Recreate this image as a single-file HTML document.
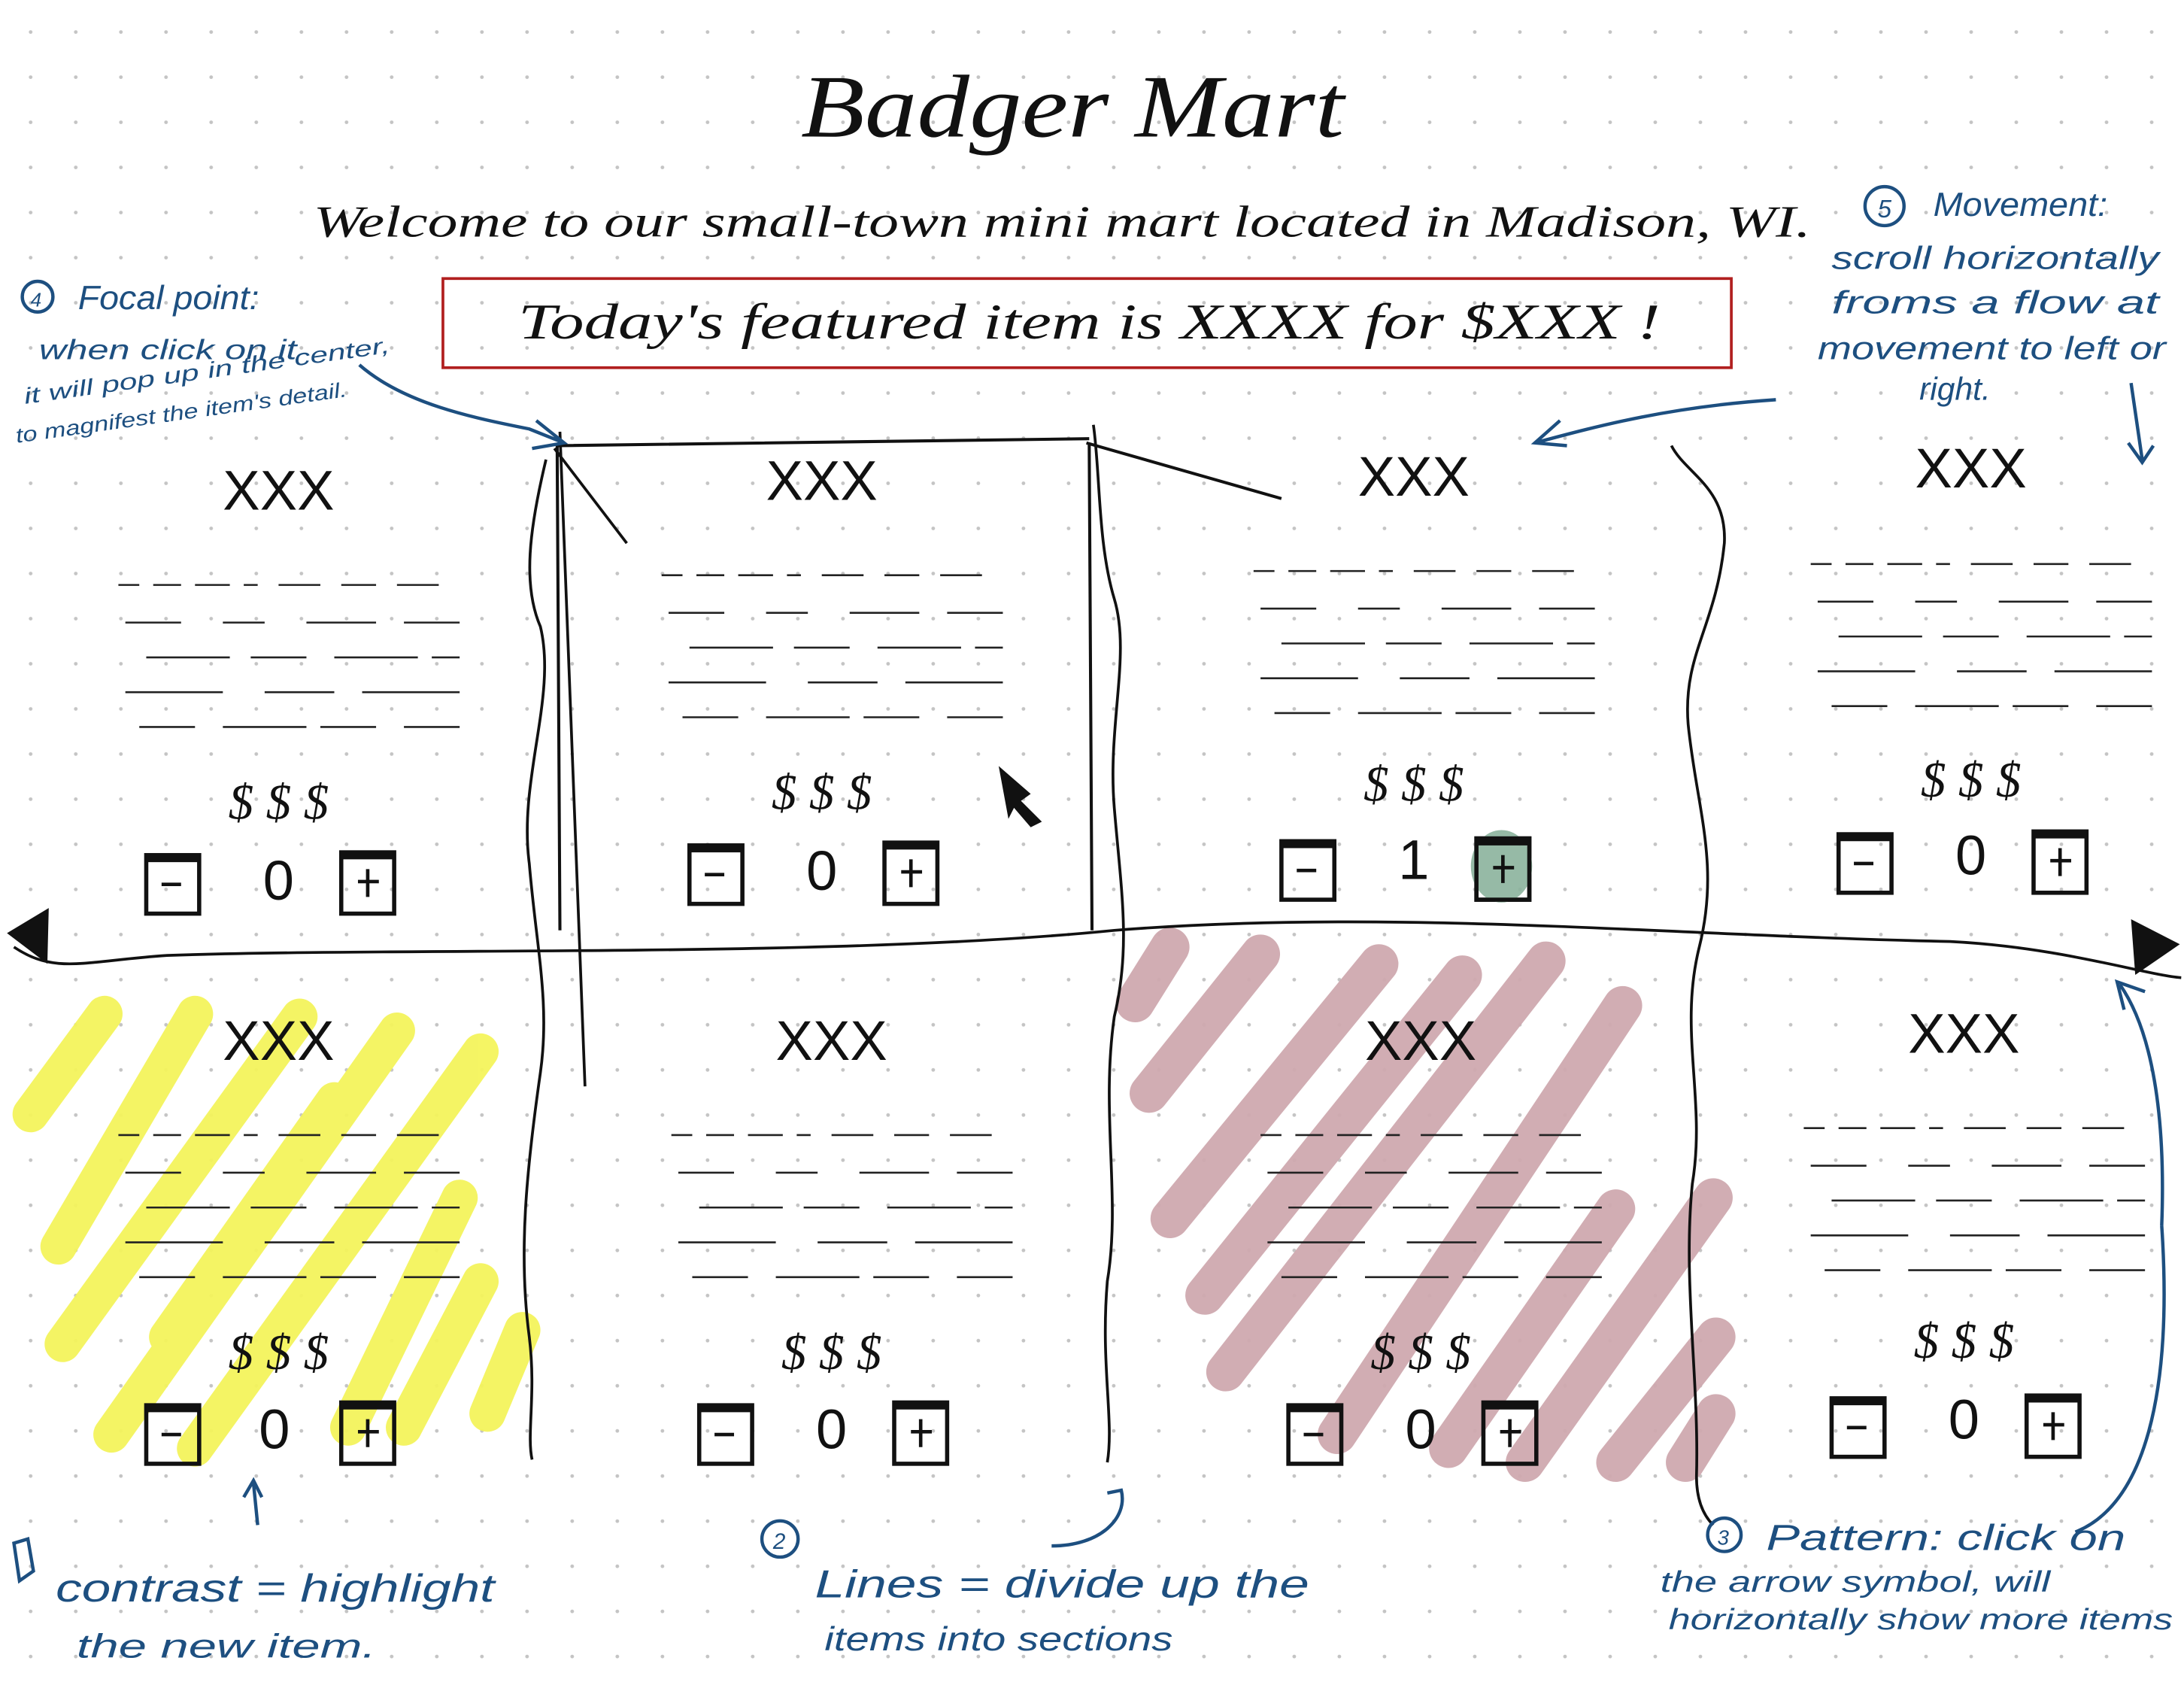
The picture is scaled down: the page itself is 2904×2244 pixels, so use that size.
<!DOCTYPE html>
<html><head><meta charset="utf-8"><style>
html,body{margin:0;padding:0;background:#fff;}
svg{display:block;}
.h{font-family:"Liberation Serif",serif;font-style:italic;fill:#111;}
.b{font-family:"Liberation Sans",sans-serif;font-style:italic;fill:#1d4f80;}
.k{font-family:"Liberation Sans",sans-serif;fill:#111;}
</style></head><body>
<svg width="2904" height="2244" viewBox="0 0 1568 1212" preserveAspectRatio="none" xmlns="http://www.w3.org/2000/svg">
<defs>
<pattern id="dots" x="6" y="7" width="32.4" height="32.4" patternUnits="userSpaceOnUse">
<circle cx="16" cy="16" r="1.3" fill="#c4c4c4"/>
</pattern>
<g id="cell">
<path d="M-115,70h15M-90,70h20M-60,70h25M-25,70h10M0,70h30M45,70h25M85,70h30
M-110,97h40M-40,97h30M20,97h50M90,97h40
M-95,122h60M-20,122h40M40,122h60M110,122h20
M-110,147h70M-10,147h50M60,147h70
M-100,172h40M-40,172h60M30,172h40M90,172h40" stroke="#222" stroke-width="1.4" fill="none"/>
<rect x="-95" y="264" width="38" height="42" fill="none" stroke="#111" stroke-width="3"/>
<path d="M-95,266h38" stroke="#111" stroke-width="6"/>
<path d="M-84,285h14" stroke="#111" stroke-width="2.5"/>
<rect x="45" y="262" width="38" height="44" fill="none" stroke="#111" stroke-width="3"/>
<path d="M45,264h38" stroke="#111" stroke-width="6"/>
<path d="M57,283h15M64,274v20" stroke="#111" stroke-width="2.5"/>
</g>
</defs>
<rect width="1568" height="1212" fill="#fff"/>
<rect width="1568" height="1212" fill="url(#dots)"/>

<g stroke="#f4f45c" stroke-width="26" stroke-linecap="round" fill="none" opacity="0.95">
<path d="M22,800L75,728"/><path d="M42,895L140,728"/><path d="M45,965L215,730"/>
<path d="M80,1030L285,740"/><path d="M140,1040L345,755"/><path d="M250,1025L330,860"/>
<path d="M290,1025L345,920"/><path d="M350,1015L375,955"/><path d="M120,960L240,790"/>
</g>
<g stroke="#cfa9af" stroke-width="28" stroke-linecap="round" fill="none" opacity="0.95">
<path d="M815,720L840,680"/><path d="M825,785L905,685"/><path d="M840,875L990,692"/>
<path d="M865,930L1050,700"/><path d="M880,985L1110,690"/><path d="M960,1030L1165,722"/>
<path d="M1040,1040L1160,868"/><path d="M1095,1050L1230,860"/><path d="M1160,1050L1232,960"/>
<path d="M1210,1050L1232,1015"/>
</g>

<text x="575" y="98" class="h" font-size="64" textLength="390" lengthAdjust="spacingAndGlyphs">Badger Mart</text>
<text x="225" y="170" class="h" font-size="32" textLength="1075" lengthAdjust="spacingAndGlyphs">Welcome  to our  small-town  mini mart  located in Madison, WI.</text>
<rect x="318" y="200" width="925" height="64" fill="none" stroke="#b11f1f" stroke-width="2"/>
<text x="372" y="243" class="h" font-size="36" textLength="820" lengthAdjust="spacingAndGlyphs">Today's featured item is  XXXX for $XXX !</text>

<g transform="translate(200,350)"><use href="#cell"/></g>
<g transform="translate(590,343)"><use href="#cell"/></g>
<g transform="translate(1015,340)"><use href="#cell"/></g>
<g transform="translate(1415,335)"><use href="#cell"/></g>
<g transform="translate(200,745)"><use href="#cell"/></g>
<g transform="translate(597,745)"><use href="#cell"/></g>
<g transform="translate(1020,745)"><use href="#cell"/></g>
<g transform="translate(1410,740)"><use href="#cell"/></g>
<ellipse cx="1078" cy="622" rx="22" ry="26" fill="#8bb29c" opacity="0.9"/>
<rect x="1060" y="602" width="38" height="44" fill="none" stroke="#111" stroke-width="3"/>
<path d="M1060,604h38" stroke="#111" stroke-width="6"/>
<path d="M1072,623h15M1079,614v20" stroke="#111" stroke-width="2.5"/>

<g class="k" font-size="40" text-anchor="middle">
<text x="200" y="366">XXX</text><text x="590" y="359">XXX</text><text x="1015" y="356">XXX</text><text x="1415" y="350">XXX</text>
<text x="200" y="761">XXX</text><text x="597" y="761">XXX</text><text x="1020" y="761">XXX</text><text x="1410" y="756">XXX</text>
</g>
<g class="h" font-size="36" text-anchor="middle">
<text x="200" y="588">$ $ $</text><text x="590" y="581">$ $ $</text><text x="1015" y="575">$ $ $</text><text x="1415" y="572">$ $ $</text>
<text x="200" y="983">$ $ $</text><text x="597" y="983">$ $ $</text><text x="1020" y="983">$ $ $</text><text x="1410" y="975">$ $ $</text>
</g>
<g class="k" font-size="40" text-anchor="middle">
<text x="200" y="646">0</text><text x="590" y="639">0</text><text x="1015" y="631">1</text><text x="1415" y="628">0</text>
<text x="197" y="1040">0</text><text x="597" y="1040">0</text><text x="1020" y="1040">0</text><text x="1410" y="1033">0</text>
</g>

<g stroke="#111" fill="none" stroke-width="2">
<path d="M10,680C40,700 60,690 120,686C300,680 600,688 800,668C1000,652 1200,672 1400,676C1480,680 1540,700 1566,702"/>
<path d="M392,330C380,380 375,420 388,450C400,500 372,560 380,620C385,680 395,720 388,770C378,840 372,900 380,960C385,1000 378,1030 382,1048"/>
<path d="M785,305C790,340 788,390 800,430C812,470 795,520 800,580C805,640 812,680 800,730C790,800 805,860 795,920C790,980 800,1020 795,1050"/>
<path d="M1200,320C1210,340 1240,350 1238,390C1232,450 1208,470 1212,520C1218,580 1235,620 1220,680C1205,740 1225,790 1215,850C1208,920 1220,990 1218,1060C1218,1080 1225,1090 1230,1095"/>
<path d="M400,320L782,315M400,318L402,668M782,318L784,668M780,318L920,358" stroke-width="2.2"/>
<path d="M398,322L450,390M402,310L420,780"/>
</g>
<path d="M5,670L35,652L34,692Z" fill="#111"/>
<path d="M1565,678L1530,660L1533,700Z" fill="#111"/>
<path d="M717,550L740,570L733,575L748,590L740,594L728,580L724,588Z" fill="#111"/>

<g stroke="#1d4f80" fill="none" stroke-width="2.4">
<path d="M258,262C290,290 340,300 380,308L405,318M385,302L405,318L382,322"/>
<path d="M1275,287C1200,292 1150,305 1102,318M1120,302L1102,318L1125,320"/>
<path d="M1530,275L1538,330M1528,318L1538,332L1546,320"/>
<path d="M185,1095L182,1065M175,1075L182,1063L188,1075"/>
<path d="M755,1110C790,1110 810,1090 805,1070L795,1072"/>
<path d="M1490,1100C1540,1080 1560,1000 1552,880M1525,725L1520,705L1540,712M1522,707C1545,740 1555,800 1552,880"/>
<circle cx="27" cy="213" r="11"/><circle cx="1353" cy="148" r="14"/><circle cx="560" cy="1105" r="13"/><circle cx="1238" cy="1102" r="12"/>
<path d="M10,1108L14,1135L24,1128L20,1105Z"/>
</g>
<g class="b">
<text x="22" y="220" font-size="14">4</text>
<text x="56" y="222" font-size="24" textLength="130" lengthAdjust="spacingAndGlyphs">Focal point:</text>
<text x="28" y="258" font-size="20" textLength="185" lengthAdjust="spacingAndGlyphs">when click on it</text>
<text x="18" y="290" font-size="16" transform="rotate(-8 18 290)" textLength="265" lengthAdjust="spacingAndGlyphs">it will pop up  in the center,</text>
<text x="12" y="318" font-size="15" transform="rotate(-8 12 318)" textLength="240" lengthAdjust="spacingAndGlyphs">to magnifest the item's detail.</text>
<text x="1348" y="156" font-size="18">5</text>
<text x="1388" y="155" font-size="24" textLength="125" lengthAdjust="spacingAndGlyphs">Movement:</text>
<text x="1315" y="193" font-size="23" textLength="235" lengthAdjust="spacingAndGlyphs">scroll horizontally</text>
<text x="1315" y="225" font-size="23" textLength="235" lengthAdjust="spacingAndGlyphs">froms a flow at</text>
<text x="1305" y="258" font-size="23" textLength="250" lengthAdjust="spacingAndGlyphs">movement to left or</text>
<text x="1378" y="287" font-size="23">right.</text>
<text x="40" y="1150" font-size="28" textLength="315" lengthAdjust="spacingAndGlyphs">contrast = highlight</text>
<text x="55" y="1190" font-size="24" textLength="215" lengthAdjust="spacingAndGlyphs">the new item.</text>
<text x="555" y="1112" font-size="16">2</text>
<text x="585" y="1147" font-size="28" textLength="355" lengthAdjust="spacingAndGlyphs">Lines = divide up the</text>
<text x="592" y="1185" font-size="24" textLength="250" lengthAdjust="spacingAndGlyphs">items into sections</text>
<text x="1233" y="1109" font-size="15">3</text>
<text x="1268" y="1113" font-size="26" textLength="258" lengthAdjust="spacingAndGlyphs">Pattern: click on</text>
<text x="1192" y="1143" font-size="21" textLength="280" lengthAdjust="spacingAndGlyphs">the arrow symbol, will</text>
<text x="1198" y="1170" font-size="21" textLength="362" lengthAdjust="spacingAndGlyphs">horizontally show more items</text>
</g>
</svg>
</body></html>
